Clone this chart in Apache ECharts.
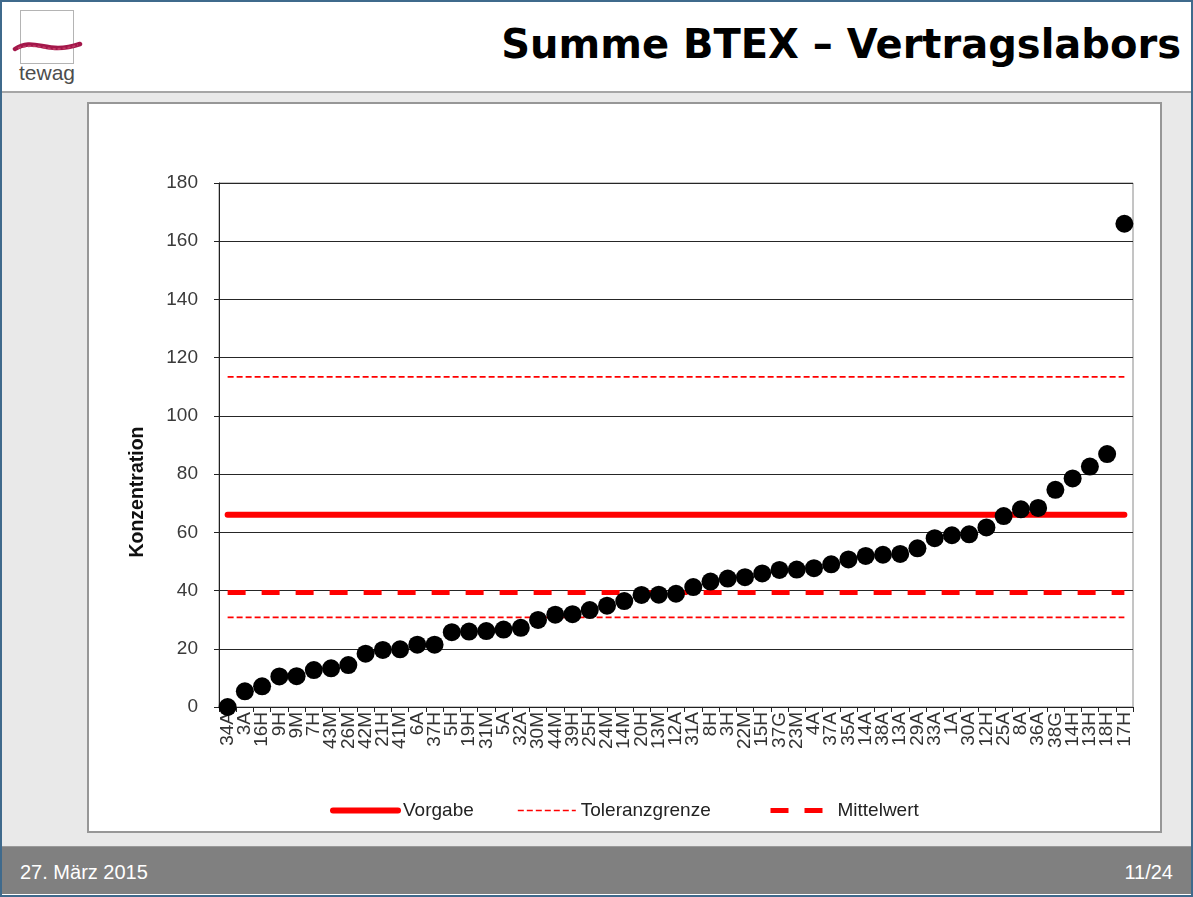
<!DOCTYPE html>
<html>
<head>
<meta charset="utf-8">
<script src="https://cdn.jsdelivr.net/npm/echarts@6/dist/echarts.min.js"></script>
<style>
  html, body { margin: 0; padding: 0; }
  body { width: 1193px; height: 897px; position: relative; overflow: hidden; background: #fff; font-family: "Liberation Sans", Arial, sans-serif; }
  .frame { position: absolute; left: 0; top: 0; width: 1189px; height: 893px; border: 2px solid #3f6a8c; background: #fff; }
  .header-line { position: absolute; left: 2px; top: 91px; width: 1189px; height: 2px; background: #a6a6a6; }
  .content { position: absolute; left: 2px; top: 93px; width: 1189px; height: 753px; background: #e9e9e9; }
  .box { position: absolute; left: 87px; top: 102px; width: 1071px; height: 727px; background: #fff; border: 2px solid #979797; }
  .footer { position: absolute; left: 2px; top: 846px; width: 1189px; height: 47px; background: #808080; border-top: 1px solid #9a9a9a; }
  .footer span { position: absolute; top: 13px; color: #fff; font-family: "Liberation Sans Narrow", "Liberation Sans", Arial, sans-serif; font-size: 20px; line-height: 24px; }
  .title { position: absolute; right: 12px; top: 24px; font-family: "DejaVu Sans", Verdana, sans-serif; font-weight: bold; font-size: 40px; line-height: 40px; color: #000; white-space: nowrap; }
  .logo-box { position: absolute; left: 20px; top: 10px; width: 52px; height: 52px; border: 1px solid #b4b4b4; }
  .logo-text { position: absolute; left: 19px; top: 61px; font-size: 21px; color: #4d4d4d; font-family: "Liberation Sans", Arial, sans-serif; }
  .logo-wave { position: absolute; left: 12px; top: 38px; }
  #chart { position: absolute; left: 0; top: 0; width: 1193px; height: 897px; }
</style>
</head>
<body>
<div class="frame"></div>
<div class="logo-box"></div>
<svg class="logo-wave" width="72" height="20" viewBox="0 0 72 20">
  <path d="M3 11 C 12 5, 20 6, 30 8 S 50 12, 68 6" stroke="#a3174a" stroke-width="4.5" fill="none" stroke-linecap="round"/>
  <path d="M6 10 C 16 7, 24 8, 34 10 S 54 11, 66 7" stroke="#c8416a" stroke-width="2" fill="none" stroke-dasharray="3 2" opacity="0.8"/>
</svg>
<div class="logo-text">tewag</div>
<div class="title">Summe BTEX – Vertragslabors</div>
<div class="header-line"></div>
<div class="content"></div>
<div class="box"></div>
<div class="footer"><span style="left:18px;">27. März 2015</span><span style="right:18px;">11/24</span></div>
<div id="chart"></div>
<script>
// Laborkennungen, aufsteigend nach Messwert sortiert
const categories = ['34A','3A','16H','9H','9M','7H','43M','26M','42M','21H','41M','6A','37H','5H','19H','31M','5A','32A','30M','44M','39H','25H','24M','14M','20H','13M','12A','31A','8H','3H','22M','15H','37G','23M','4A','37A','35A','14A','38A','13A','29A','33A','1A','30A','12H','25A','8A','36A','38G','14H','13H','18H','17H'];

// Summe BTEX je Labor
const konzentration = [0, 5.4, 7.1, 10.5, 10.6, 12.7, 13.3, 14.4, 18.3, 19.6, 19.8, 21.4, 21.4, 25.7, 25.9, 26.1, 26.6, 27.2, 29.9, 31.7, 31.9, 33.3, 34.8, 36.4, 38.5, 38.6, 38.9, 41.2, 43.1, 44.1, 44.6, 45.9, 47.1, 47.2, 47.7, 49.0, 50.7, 51.9, 52.3, 52.6, 54.5, 58.0, 59.0, 59.3, 61.7, 65.6, 67.9, 68.4, 74.6, 78.5, 82.6, 86.9, 166.0];

// Referenzwerte
const vorgabe = 66;
const toleranzOben = 113.4;
const toleranzUnten = 30.8;
const mittelwert = 39.3;

const yTicks = { min: 0, max: 180, interval: 20 };

const flat = v => categories.map(() => v);
const RED = '#ff0000';

const vorgabeLine = { color: RED, width: 6, cap: 'round' };
const toleranzLine = { color: RED, width: 1.6, type: [6, 3] };
const mittelwertLine = { color: RED, width: 5, type: [18, 16] };

const chart = echarts.init(document.getElementById('chart'), null, { renderer: 'canvas' });

const legendText = { fontFamily: 'Liberation Sans, Arial, sans-serif', fontSize: 19, color: '#222' };
const legendBase = { top: 801, padding: 0, itemHeight: 18, textStyle: legendText, selectedMode: false, itemStyle: { opacity: 0 } };

chart.setOption({
  backgroundColor: 'transparent',
  animation: false,
  grid: { left: 219, top: 183, width: 914, height: 524, show: true, borderColor: '#8a8a8a', borderWidth: 1, backgroundColor: 'transparent' },
  xAxis: {
    type: 'category',
    data: categories,
    boundaryGap: true,
    axisLine: { lineStyle: { color: '#222', width: 1 } },
    axisTick: { show: true, length: 5, lineStyle: { color: '#222' } },
    axisLabel: { interval: 0, rotate: 90, margin: 5, fontSize: 19, color: '#333', fontFamily: 'Liberation Sans, Arial, sans-serif' },
    splitLine: { show: false }
  },
  yAxis: {
    type: 'value',
    min: yTicks.min, max: yTicks.max, interval: yTicks.interval,
    axisLine: { show: true, lineStyle: { color: '#222', width: 1 } },
    axisTick: { show: true, length: 5, lineStyle: { color: '#222' } },
    axisLabel: { margin: 21, fontSize: 19, color: '#3a3a3a', fontFamily: 'Liberation Sans, Arial, sans-serif' },
    splitLine: { show: true, lineStyle: { color: '#262626', width: 1 } }
  },
  graphic: [{
    type: 'text',
    x: 138, y: 492,
    rotation: Math.PI / 2,
    style: { text: 'Konzentration', fontSize: 19.5, fontWeight: 'bold', fill: '#111', fontFamily: 'Liberation Sans, Arial, sans-serif', align: 'center', verticalAlign: 'middle' }
  }],
  legend: [
    Object.assign({ data: ['Vorgabe'], left: 330, itemWidth: 65, lineStyle: vorgabeLine }, legendBase),
    Object.assign({ data: ['Toleranzgrenze'], left: 517, itemWidth: 58, lineStyle: toleranzLine }, legendBase),
    Object.assign({ data: ['Mittelwert'], left: 768, itemWidth: 62, lineStyle: mittelwertLine }, legendBase)
  ],
  series: [
    {
      name: 'Vorgabe', type: 'line', data: flat(vorgabe), symbol: 'none', silent: true, z: 3,
      lineStyle: vorgabeLine, itemStyle: { color: RED }
    },
    {
      name: 'Toleranzgrenze', type: 'line', data: flat(toleranzOben), symbol: 'none', silent: true, z: 3,
      lineStyle: toleranzLine, itemStyle: { color: RED }
    },
    {
      name: 'Toleranzgrenze', type: 'line', data: flat(toleranzUnten), symbol: 'none', silent: true, z: 3,
      lineStyle: toleranzLine, itemStyle: { color: RED }
    },
    {
      name: 'Mittelwert', type: 'line', data: flat(mittelwert), symbol: 'none', silent: true, z: 3,
      lineStyle: mittelwertLine, itemStyle: { color: RED }
    },
    {
      name: 'Konzentration', type: 'scatter', data: konzentration, symbol: 'circle', symbolSize: 18, z: 5,
      itemStyle: { color: '#000', opacity: 1 }
    }
  ]
});
</script>
</body>
</html>
